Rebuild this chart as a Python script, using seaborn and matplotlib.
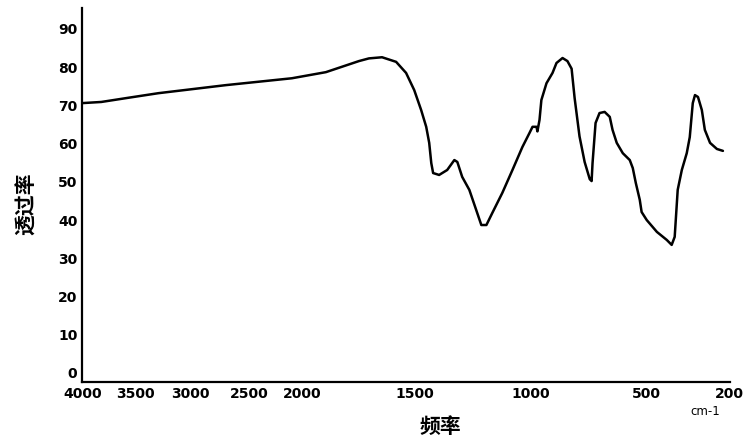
import matplotlib
matplotlib.use("Agg")
import matplotlib.pyplot as plt
from matplotlib.ticker import NullLocator
import seaborn as sns
import numpy as np
import pandas as pd

# IR spectrum (wavenumber cm-1, transmittance %)
wavenumber = [4000, 3821, 3566, 3291, 2703, 2096, 1894, 1748, 1704, 1646, 1584,
              1540, 1504, 1474, 1452, 1439, 1430, 1422, 1396, 1361, 1330, 1317,
              1296, 1265, 1235, 1213, 1191, 1165, 1122, 1078, 1035, 1004, 991,
              974, 970, 961, 953, 931, 905, 888, 862, 841, 823, 810, 789, 767,
              745, 737, 733, 720, 703, 681, 659, 647, 629, 603, 573, 560, 547,
              530, 522, 500, 463, 427, 409, 398, 387, 372, 354, 343, 332, 324,
              313, 299, 288, 269, 244, 222]
transmittance = [70.6, 70.9, 72.0, 73.2, 75.3, 77.1, 78.7, 81.6, 82.3, 82.6, 81.4,
                 78.5, 74.0, 68.8, 64.4, 60.2, 54.9, 52.3, 51.8, 53.1, 55.7, 55.2,
                 51.3, 47.9, 42.6, 38.7, 38.7, 41.9, 47.1, 53.1, 59.1, 62.8, 64.4,
                 64.4, 63.2, 66.2, 71.4, 75.8, 78.5, 81.1, 82.4, 81.6, 79.6, 71.9, 61.9, 55.2,
                 50.7, 50.2, 54.9, 65.4, 68.0, 68.3, 67.0, 63.6, 60.2, 57.5, 55.7, 53.6, 49.7,
                 45.3, 42.1, 40.0, 36.9, 34.8, 33.5, 35.6, 47.9, 53.1, 57.5, 61.7, 70.6, 72.7,
                 72.2, 68.8, 63.6, 60.2, 58.6, 58.1]

x_ticks = [4000, 3500, 3000, 2500, 2000, 1500, 1000, 500, 200]
y_ticks = list(range(0, 100, 10))

df = pd.DataFrame({"wn": wavenumber, "T": transmittance})

# chart paper scale: 4000-2000 is compressed relative to 2000-200
brk = np.array([200, 500, 1000, 1500, 2000, 2500, 3000, 3500, 4000], dtype=float)
pos = np.array([0, 82, 198, 313, 426, 478, 537, 592, 645], dtype=float)


def fwd(v):
    v = np.asarray(v, dtype=float)
    out = np.interp(v, brk, pos)
    out = np.where(v < brk[0], pos[0] + (v - brk[0]) * 82 / 300, out)
    out = np.where(v > brk[-1], pos[-1] + (v - brk[-1]) * 53 / 500, out)
    return out


def inv(p):
    p = np.asarray(p, dtype=float)
    out = np.interp(p, pos, brk)
    out = np.where(p < pos[0], brk[0] + (p - pos[0]) * 300 / 82, out)
    out = np.where(p > pos[-1], brk[-1] + (p - pos[-1]) * 500 / 53, out)
    return out


sns.set_style("white")
plt.rcParams["font.family"] = ["DejaVu Sans", "Noto Sans CJK SC"]
plt.rcParams["text.color"] = "black"

fig = plt.figure(figsize=(7.48, 4.42), dpi=100)
ax = fig.add_axes([0.11, 0.136, 0.866, 0.846])

sns.lineplot(data=df, x="wn", y="T", sort=False, color="black", linewidth=1.8,
             solid_joinstyle="round", solid_capstyle="round", ax=ax)

ax.set_xscale("function", functions=(fwd, inv))
ax.xaxis.set_minor_locator(NullLocator())
ax.set_xlim(4000, 196)
ax.set_ylim(-2.35, 95.5)
ax.set_xticks(x_ticks)
ax.set_xticklabels([str(t) for t in x_ticks])
ax.set_yticks(y_ticks)
ax.set_yticklabels([str(t) for t in y_ticks])
ax.tick_params(direction="in", length=4, width=1.2, colors="black", labelsize=10)
for lab in ax.get_xticklabels() + ax.get_yticklabels():
    lab.set_fontweight("bold")

sns.despine(ax=ax)
for s in ["left", "bottom"]:
    ax.spines[s].set_color("black")
    ax.spines[s].set_linewidth(1.6)

ax.set_xlabel("")
ax.set_ylabel("")
fig.text(0.035, 0.54, "透过率", rotation=90, ha="center", va="center", color="black",
         fontsize=15, fontweight="bold", family=["Noto Sans CJK SC", "DejaVu Sans"])
fig.text(0.589, 0.034, "频率", ha="center", va="center", color="black",
         fontsize=15, fontweight="bold", family=["Noto Sans CJK SC", "DejaVu Sans"])
fig.text(0.943, 0.068, "cm-1", ha="center", va="center", color="black", fontsize=8.5)

fig.savefig("out.png", dpi=100)
